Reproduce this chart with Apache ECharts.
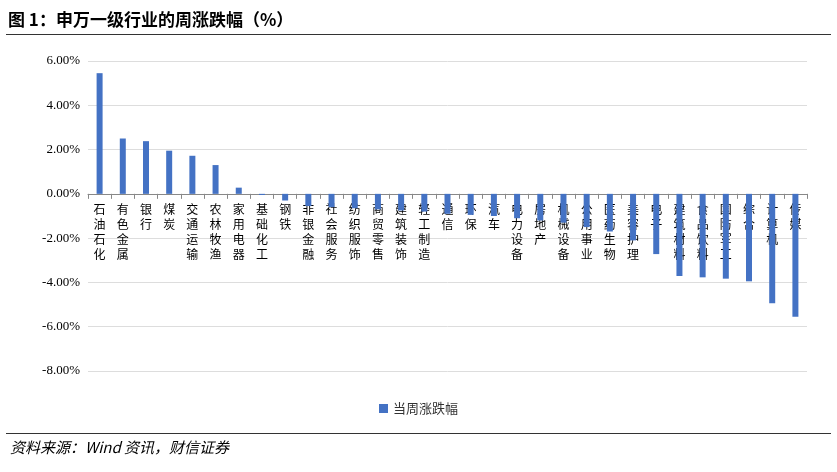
<!DOCTYPE html><html><head><meta charset="utf-8"><script src="https://cdn.jsdelivr.net/npm/echarts@6/dist/echarts.min.js"></script>
<style>body{margin:0;background:#fff}#t{position:absolute;left:8px;top:6px;font:bold 17px "Noto Sans CJK SC";color:#000}#l1{position:absolute;left:6px;right:6px;top:34px;border-top:1px solid #333}#l2{position:absolute;left:6px;right:6px;top:433px;border-top:1px solid #333}#s{position:absolute;left:10px;top:436px;font:italic 15px "Noto Sans CJK SC";}#c{position:absolute;left:0;top:0;width:837px;height:472px}</style></head><body>
<div id="c"></div><div id="t">图 1：申万一级行业的周涨跌幅（%）</div><div id="l1"></div><div id="l2"></div><div id="s">资料来源：Wind 资讯，财信证券</div>
<script>
const categories=['石油石化','有色金属','银行','煤炭','交通运输','农林牧渔','家用电器','基础化工','钢铁','非银金融','社会服务','纺织服饰','商贸零售','建筑装饰','轻工制造','通信','环保','汽车','电力设备','房地产','机械设备','公用事业','医药生物','美容护理','电子','建筑材料','食品饮料','国防军工','综合','计算机','传媒'];
const values=[5.45,2.5,2.38,1.95,1.72,1.3,0.28,-0.05,-0.3,-0.55,-0.6,-0.65,-0.7,-0.75,-0.8,-0.9,-0.95,-1.0,-1.1,-1.2,-1.3,-1.5,-1.7,-2.1,-2.72,-3.71,-3.77,-3.83,-3.95,-4.94,-5.55];
const seriesName='当周涨跌幅';
const c=echarts.init(document.getElementById('c'));
c.setOption({animation:false,
grid:{left:88,right:30,top:61,bottom:101},
legend:{bottom:52,left:'center',itemWidth:9,itemHeight:9,icon:'rect',textStyle:{fontFamily:'Noto Sans CJK SC',fontSize:13,color:'#333'}},
xAxis:{type:'category',data:categories,axisLine:{onZero:true,lineStyle:{color:'#888'}},axisTick:{show:true,alignWithLabel:false,lineStyle:{color:'#888'}},
axisLabel:{interval:0,formatter:v=>v.split('').join('\n'),fontFamily:'Noto Sans CJK SC',fontSize:12,lineHeight:15,color:'#000',verticalAlign:'top',margin:-169}},
yAxis:{type:'value',min:-8,max:6,interval:2,axisLine:{show:false},axisTick:{show:false},splitLine:{lineStyle:{color:'#ddd'}},
axisLabel:{formatter:v=>v.toFixed(2)+'%',fontFamily:'Liberation Serif',fontSize:13,color:'#000'}},
series:[{name:seriesName,type:'bar',data:values,barWidth:6,z:1,itemStyle:{color:'#4472C4'}}]});
</script></body></html>
